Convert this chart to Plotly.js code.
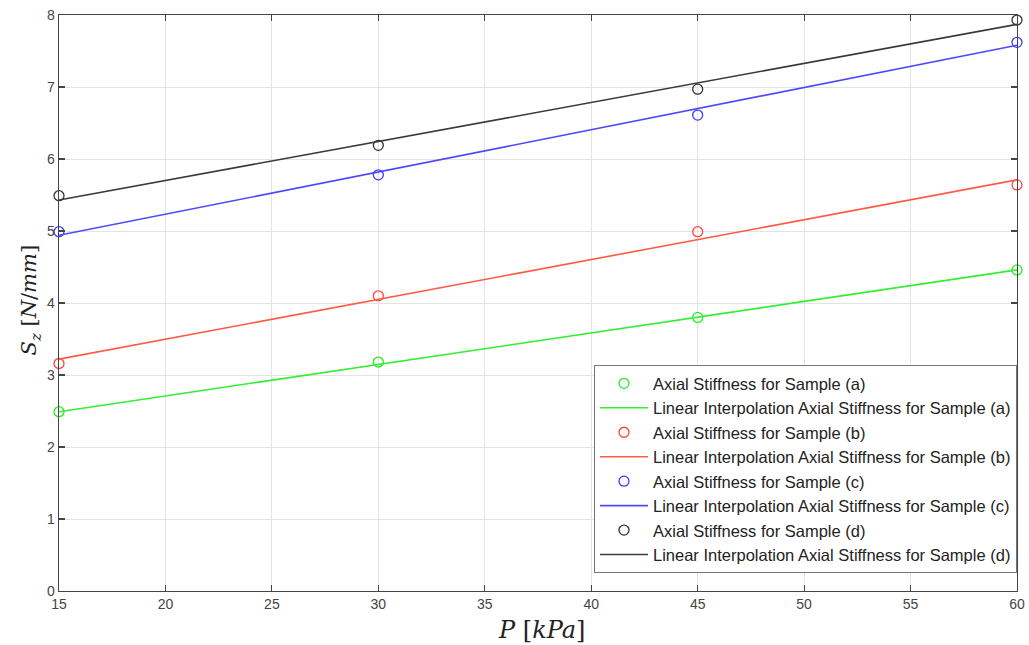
<!DOCTYPE html>
<html><head><meta charset="utf-8">
<script src="https://cdn.plot.ly/plotly-3.0.1.min.js"></script>
<style>html,body{margin:0;padding:0;background:#fff;}#chart{width:1029px;height:645px;}</style>
</head><body><div id="chart"></div>
<script>
const pressure = [15, 30, 45, 60];
const stiffA = [2.49, 3.18, 3.80, 4.46];
const stiffB = [3.16, 4.10, 4.99, 5.64];
const stiffC = [4.99, 5.78, 6.61, 7.62];
const stiffD = [5.49, 6.19, 6.97, 7.93];
const fitX = [15, 60];
const fitA = [2.49, 4.46];
const fitB = [3.22, 5.71];
const fitC = [4.94, 7.58];
const fitD = [5.43, 7.87];
const xTicks = [15, 20, 25, 30, 35, 40, 45, 50, 55, 60];
const yTicks = [0, 1, 2, 3, 4, 5, 6, 7, 8];
const names = ['(a)', '(b)', '(c)', '(d)'];

const ptColors = ['#22ee22', '#ff4444', '#3a3aff', '#333333'];
const lnColors = ['#33ee33', '#ff5a45', '#4a4aff', '#3a3a3a'];
const pts = [stiffA, stiffB, stiffC, stiffD];
const fits = [fitA, fitB, fitC, fitD];

const traces = [];
for (let i = 0; i < 4; i++) {
  traces.push({
    x: pressure, y: pts[i], type: 'scatter', mode: 'markers',
    name: 'Axial Stiffness for Sample ' + names[i],
    legendgroup: 'p' + i,
    marker: {symbol: 'circle-open', size: 10, color: ptColors[i], line: {width: 1.3, color: ptColors[i]}},
    cliponaxis: false
  });
  traces.push({
    x: fitX, y: fits[i], type: 'scatter', mode: 'lines',
    name: 'Linear Interpolation Axial Stiffness for Sample ' + names[i],
    legendgroup: 'l' + i,
    line: {color: lnColors[i], width: 1.6}
  });
}

const axisCommon = {
  showline: true, mirror: 'ticks', linecolor: '#444', linewidth: 1.3,
  ticks: 'inside', ticklen: 6, tickcolor: '#444', tickwidth: 1.2,
  showgrid: true, gridcolor: '#e3e3e3', gridwidth: 1, zeroline: false,
  tickfont: {family: 'Liberation Sans, Arial, sans-serif', size: 14, color: '#444'}
};

const layout = {
  width: 1029, height: 645,
  margin: {l: 59, r: 12, t: 15, b: 54},
  paper_bgcolor: '#fff', plot_bgcolor: '#fff',
  showlegend: true,
  xaxis: Object.assign({}, axisCommon, {range: [15, 60], tickvals: xTicks}),
  yaxis: Object.assign({}, axisCommon, {range: [0, 8], tickvals: yTicks}),
  annotations: [
    {text: '<i>P</i> [<i>kPa</i>]', xref: 'paper', yref: 'paper', x: 0.504, y: -0.068,
     xanchor: 'center', yanchor: 'middle', showarrow: false,
     font: {family: 'DejaVu Serif, serif', size: 24, color: '#222'}},
    {text: '<i>S<sub>z</sub></i> [<i>N</i>/<i>mm</i>]', xref: 'paper', yref: 'paper', x: -0.030, y: 0.505,
     xanchor: 'center', yanchor: 'middle', textangle: -90, showarrow: false,
     font: {family: 'DejaVu Serif, serif', size: 21, color: '#222'}}
  ],
  legend: {
    x: 1, xanchor: 'right', y: 0.031, yanchor: 'bottom',
    bgcolor: '#fff', bordercolor: '#777', borderwidth: 1,
    font: {family: 'Liberation Sans, Arial, sans-serif', size: 16.5, color: '#222'},
    tracegroupgap: 0, itemwidth: 48
  }
};

Plotly.newPlot('chart', traces, layout, {displayModeBar: false, staticPlot: true});
</script>
</body></html>
